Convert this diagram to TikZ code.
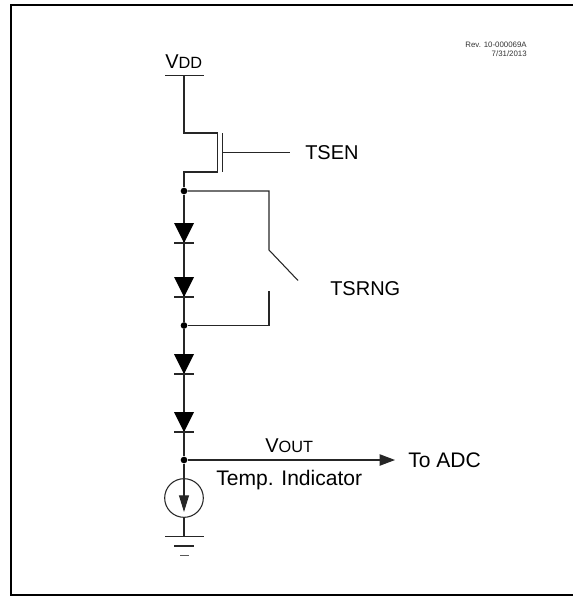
\documentclass[tikz,border=0pt]{standalone}
\usepackage{fontspec}
\setmainfont{Liberation Sans}
\usetikzlibrary{arrows.meta}
\tikzstyle{wire} = [line width=.8pt,black!85]
\tikzstyle{bigtext} = [inner sep=0,anchor=base west,font=\fontsize{15}{15}\selectfont]
\tikzstyle{widetext} = [inner sep=0,anchor=base west,font=\fontsize{15.8}{15.8}\selectfont]
\tikzstyle{smalltext} = [inner sep=0,anchor=base east,font=\fontsize{5.9}{5.9}\selectfont,black!80]
\tikzstyle{joint} = [shape=circle,minimum size=5pt,inner sep=0,fill=black]
\tikzstyle{source} = [shape=circle,minimum size=29pt,inner sep=0,line width=.8pt,draw=black!85]
\tikzstyle{arrow} = [wire,-{Triangle[length=11.5pt,width=8.5pt]}]
\newcommand{\lowcap}[1]{{\fontsize{12.2}{12.2}\selectfont #1}}

\begin{document}
\begin{tikzpicture}[x=.75pt,y=-.75pt]
\useasboundingbox (0,0) rectangle (573,596);
\draw[line width=1.5pt] (573,5)--(11,5)--(11,595)--(573,595);

\node[smalltext] (rev) at (527,47.5) {Rev. 10-000069A};
\node[smalltext] (date) at (527,56.5) {7/31/2013};

\node[bigtext] (vddlabel) at (165,68) {V\lowcap{DD}};
\node[bigtext] (tsen) at (305,159) {TSEN};
\node[bigtext] (tsrng) at (330,295) {TSRNG};
\node[bigtext] (voutlabel) at (265,452) {V\lowcap{OUT}};
\node[widetext] (tempind) at (216,485) {Temp. Indicator};
\node[widetext] (toadc) at (408,467) {To ADC};

\node[joint] (j1) at (184,191) {};
\node[joint] (j2) at (184,325.5) {};
\node[joint] (j3) at (184,460) {};
\node[source] (isrc) at (184,498) {};

\coordinate (vddpin) at (184,75.5);
\coordinate (vddl) at (165,75.5);
\coordinate (vddr) at (203.5,75.5);
\coordinate (drain) at (217.5,133);
\coordinate (mossrc) at (217.5,172);
\coordinate (gatetop) at (222.5,133);
\coordinate (gatebot) at (222.5,172);
\coordinate (gatemid) at (222.5,152.5);
\coordinate (gateend) at (290,152.5);
\coordinate (swtop) at (269,250);
\coordinate (swarm) at (298,280.5);
\coordinate (swlow) at (269,291);
\coordinate (adcend) at (395,460);
\coordinate (gnd) at (184,536.5);

% supply and transistor
\draw[wire] (vddl)--(vddr);
\draw[wire] (vddpin)|-(drain)--(mossrc)-|(j1);
\draw[wire] (gatetop)--(gatebot);
\draw[wire] (gatemid)--(gateend);

% string of diodes
\draw[wire] (j1)--(j2)--(j3)--(isrc.north);
\foreach \y in {223,277,354,412}{
	\fill (174,\y)--(194,\y)--(184,\y+20)--cycle;
	\draw[wire] (174,\y+20)--(194,\y+20);
}

% switch
\draw[wire] (j1)-|(swtop)--(swarm);
\draw[wire] (swlow)|-(j2);

% output
\draw[arrow] (j3)--(adcend);

% current source and ground
\draw[wire] (isrc.south)--(gnd);
\draw[wire,-{Triangle[length=12.5pt,width=7.5pt]}] (isrc.north)--(184,512);
\draw[wire] (165,536.5)--(204,536.5);
\draw[wire] (174,546)--(194,546);
\draw[wire,black!65] (180,555.5)--(189,555.5);
\end{tikzpicture}
\end{document}
